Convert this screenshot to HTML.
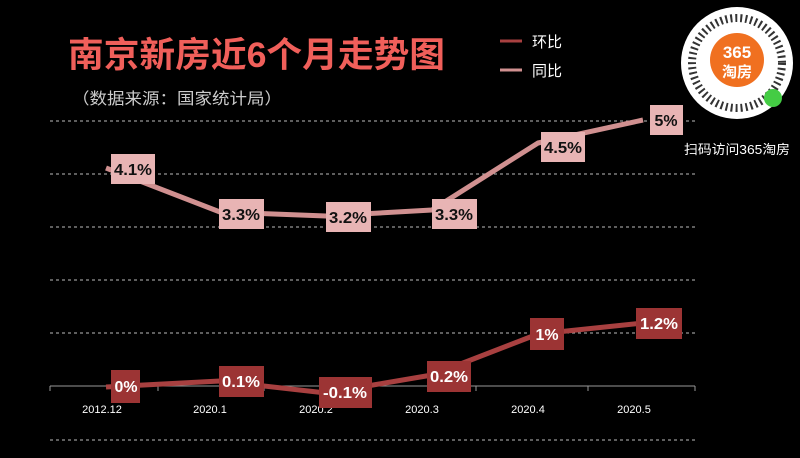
<!DOCTYPE html>
<html><head><meta charset="utf-8"><style>
body{margin:0;background:#000;width:800px;height:453px;overflow:hidden;font-family:"Liberation Sans","Noto Sans CJK SC",sans-serif;}
</style></head><body>
<svg width="800" height="453" xmlns="http://www.w3.org/2000/svg" font-family="Liberation Sans, Noto Sans CJK SC, sans-serif">
<rect width="800" height="453" fill="#000"/>
<g stroke="#bbb" stroke-width="1" stroke-dasharray="3,3">
<line x1="50" y1="121" x2="695" y2="121"/><line x1="50" y1="174" x2="695" y2="174"/>
<line x1="50" y1="227" x2="695" y2="227"/><line x1="50" y1="280" x2="695" y2="280"/>
<line x1="50" y1="333" x2="695" y2="333"/><line x1="50" y1="440" x2="695" y2="440"/>
</g>
<line x1="50" y1="386" x2="695" y2="386" stroke="#999" stroke-width="1"/>
<g stroke="#999"><line x1="50" y1="386" x2="50" y2="391"/><line x1="158" y1="386" x2="158" y2="391"/><line x1="264" y1="386" x2="264" y2="391"/><line x1="370" y1="386" x2="370" y2="391"/><line x1="476" y1="386" x2="476" y2="391"/><line x1="588" y1="386" x2="588" y2="391"/><line x1="695" y1="386" x2="695" y2="391"/></g>
<g fill="#fff" font-size="11" text-anchor="middle">
<text x="102" y="413">2012.12</text><text x="210" y="413">2020.1</text><text x="316" y="413">2020.2</text><text x="422" y="413">2020.3</text><text x="528" y="413">2020.4</text><text x="634" y="413">2020.5</text></g>
<text x="68" y="67" font-size="35" font-weight="bold" fill="#f05f5a" textLength="377" lengthAdjust="spacingAndGlyphs">南京新房近6个月走势图</text>
<text x="72" y="104" font-size="16" fill="#ccc" textLength="210" lengthAdjust="spacingAndGlyphs">（数据来源：国家统计局）</text>
<line x1="500" y1="41" x2="522" y2="41" stroke="#a84040" stroke-width="3"/>
<text x="532" y="47" font-size="15" fill="#fff">环比</text>
<line x1="500" y1="70" x2="522" y2="70" stroke="#d09090" stroke-width="3"/>
<text x="532" y="76" font-size="15" fill="#fff">同比</text>
<circle cx="737" cy="63" r="56" fill="#fff"/>
<circle cx="737" cy="63" r="45" fill="none" stroke="#333" stroke-width="8" stroke-dasharray="2,3"/>
<circle cx="737" cy="60" r="27" fill="#f07020"/>
<text x="737" y="58" font-size="17" font-weight="bold" fill="#fff" text-anchor="middle">365</text>
<text x="737" y="77" font-size="15" font-weight="bold" fill="#fff" text-anchor="middle">淘房</text>
<circle cx="773" cy="98" r="9" fill="#4c4"/>
<text x="684" y="154" font-size="13" fill="#fff" textLength="106" lengthAdjust="spacingAndGlyphs">扫码访问365淘房</text>
<polyline points="106,168 220,212 326,216 432,210 538,143 643,120" fill="none" stroke="#d09090" stroke-width="5" stroke-linejoin="round"/>
<polyline points="106,387 220,381 326,393 432,375 538,334 643,323" fill="none" stroke="#a84040" stroke-width="5" stroke-linejoin="round"/>
<g fill="#e8b4b4"><rect x="111" y="154" width="44" height="30"/><rect x="219" y="199" width="45" height="30"/><rect x="326" y="202" width="45" height="30"/><rect x="432" y="199" width="45" height="30"/><rect x="541" y="132" width="44" height="30"/><rect x="650" y="105" width="33" height="30"/></g>
<g font-size="16" font-weight="bold" fill="#111" text-anchor="middle">
<text x="133" y="175" textLength="38" lengthAdjust="spacingAndGlyphs">4.1%</text><text x="241" y="220" textLength="38" lengthAdjust="spacingAndGlyphs">3.3%</text><text x="348" y="223" textLength="38" lengthAdjust="spacingAndGlyphs">3.2%</text><text x="454" y="220" textLength="38" lengthAdjust="spacingAndGlyphs">3.3%</text><text x="563" y="153" textLength="38" lengthAdjust="spacingAndGlyphs">4.5%</text><text x="666" y="126" textLength="23" lengthAdjust="spacingAndGlyphs">5%</text></g>
<g fill="#9c3434"><rect x="111" y="370" width="29" height="33"/><rect x="219" y="366" width="45" height="31"/><rect x="319" y="377" width="53" height="31"/><rect x="427" y="361" width="44" height="31"/><rect x="530" y="318" width="34" height="32"/><rect x="636" y="308" width="46" height="31"/></g>
<g font-size="16" font-weight="bold" fill="#fff" text-anchor="middle">
<text x="126" y="392" textLength="23" lengthAdjust="spacingAndGlyphs">0%</text><text x="241" y="387" textLength="38" lengthAdjust="spacingAndGlyphs">0.1%</text><text x="345" y="398" textLength="44" lengthAdjust="spacingAndGlyphs">-0.1%</text><text x="449" y="382" textLength="38" lengthAdjust="spacingAndGlyphs">0.2%</text><text x="547" y="340" textLength="23" lengthAdjust="spacingAndGlyphs">1%</text><text x="659" y="329" textLength="38" lengthAdjust="spacingAndGlyphs">1.2%</text></g>
</svg>
</body></html>
